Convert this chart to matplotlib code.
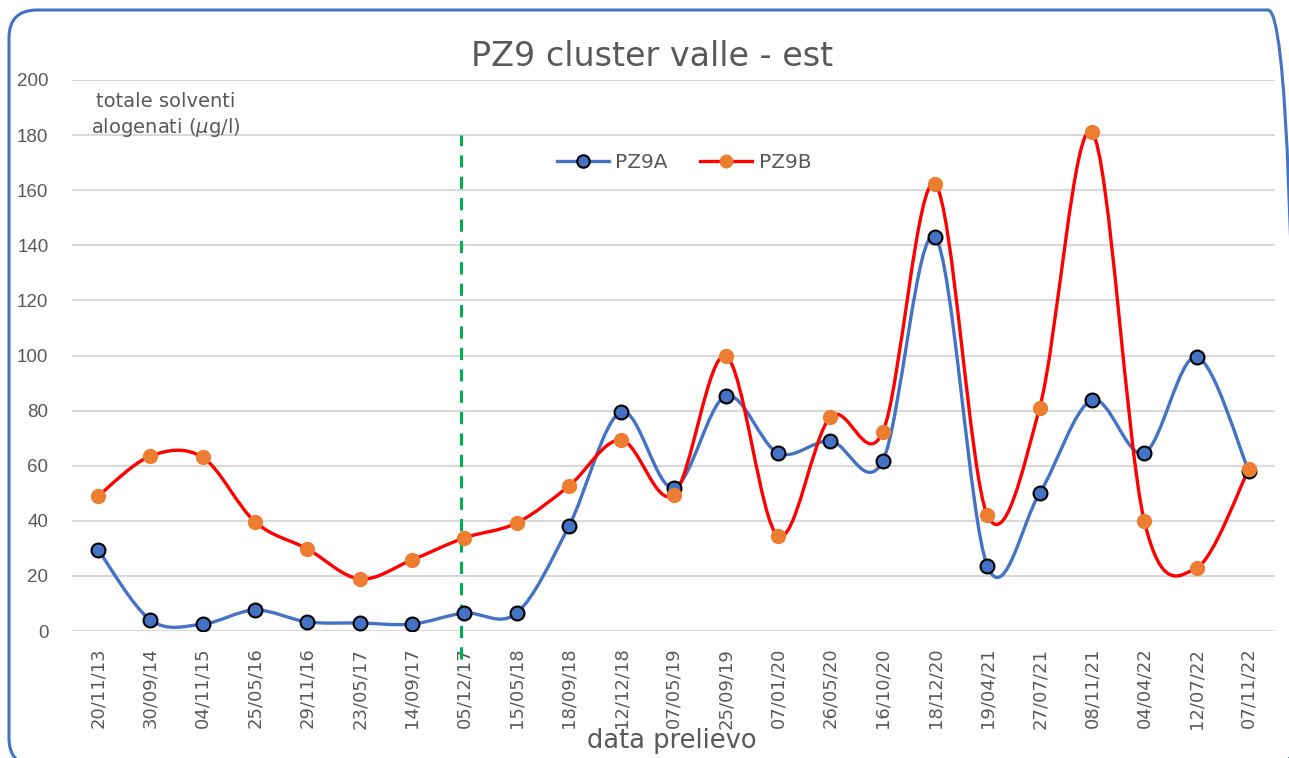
import numpy as np
import matplotlib.pyplot as plt
from matplotlib.path import Path
from matplotlib.patches import PathPatch, FancyBboxPatch
from matplotlib.lines import Line2D
from matplotlib.transforms import IdentityTransform

# dati
date = ['20/11/13', '30/09/14', '04/11/15', '25/05/16', '29/11/16', '23/05/17',
        '14/09/17', '05/12/17', '15/05/18', '18/09/18', '12/12/18', '07/05/19',
        '25/09/19', '07/01/20', '26/05/20', '16/10/20', '18/12/20', '19/04/21',
        '27/07/21', '08/11/21', '04/04/22', '12/07/22', '07/11/22']
pz9a = [29.5, 4, 2.5, 7.6, 3.3, 2.9, 2.5, 6.5, 6.5, 38, 79.5, 52, 85.3, 64.6,
        69, 61.7, 143, 23.6, 50, 83.8, 64.6, 99.5, 58]
pz9b = [49, 63.5, 63, 39.6, 29.8, 18.9, 25.8, 33.8, 39.2, 52.6, 69.3, 49.4,
        99.8, 34.5, 77.7, 72.2, 162.2, 42.1, 81, 181.1, 40, 22.9, 58.8]
linea_verticale = 6.93

blu = '#4472C4'
arancio = '#ED7D31'
grigio = '#595959'


def curva_smussata(x, y):
    # linea smussata tipo Excel (Bezier cubiche)
    p = np.column_stack([x, y]).astype(float)
    n = len(p)
    verts = [p[0]]
    codes = [Path.MOVETO]
    for i in range(n - 1):
        p0 = p[i - 1] if i > 0 else p[i]
        p3 = p[i + 2] if i + 2 < n else p[i + 1]
        c1 = p[i] + (p[i + 1] - p0) / 6
        c2 = p[i + 1] - (p3 - p[i]) / 6
        verts += [c1, c2, p[i + 1]]
        codes += [Path.CURVE4] * 3
    return Path(verts, codes)


fig = plt.figure(figsize=(12.89, 7.58), dpi=100)
ax = fig.add_axes([72 / 1289, 1 - 631 / 758, (1275 - 72) / 1289, 551 / 758])

# bordo arrotondato (in pixel, esce fuori a destra e in basso)
bordo = FancyBboxPatch((9, -8), 1287, 756,
                       boxstyle='round,pad=0,rounding_size=28',
                       transform=IdentityTransform(), facecolor='none',
                       edgecolor=blu, linewidth=2.2, zorder=0, clip_on=False)
fig.patches.append(bordo)

x = np.arange(len(date))

for serie, col_linea in [(pz9a, blu), (pz9b, 'red')]:
    ax.add_patch(PathPatch(curva_smussata(x, serie), facecolor='none',
                           edgecolor=col_linea, linewidth=2.4, zorder=3,
                           capstyle='round', joinstyle='round'))

ax.plot(x, pz9a, linestyle='none', marker='o', markersize=10,
        markerfacecolor=blu, markeredgecolor='black', markeredgewidth=1.5, zorder=4)
ax.plot(x, pz9b, linestyle='none', marker='o', markersize=10,
        markerfacecolor=arancio, markeredgecolor=arancio, zorder=4)

# linea verticale tratteggiata
ax.plot([linea_verticale, linea_verticale], [-10, 180], color='#00B050',
        linestyle=(0, (4, 3)), linewidth=2.2, clip_on=False, zorder=2)

ax.set_xlim(-0.5, len(date) - 0.5)
ax.set_ylim(0, 200)
ax.set_yticks(range(0, 201, 20))
ax.set_xticks(x)
ax.set_xticklabels(date, rotation=90, fontsize=13, color=grigio,
                   family='DejaVu Sans')
ax.tick_params(axis='y', labelsize=13.5, labelcolor=grigio, length=0, pad=17)
ax.tick_params(axis='x', length=0, pad=12)
for lab in ax.get_yticklabels():
    lab.set_family('Liberation Sans')
ax.grid(axis='y', color='#D9D9D9', linewidth=1.5)
ax.set_axisbelow(True)
for s in ax.spines.values():
    s.set_visible(False)

ax.text(1.3, 195.5, 'totale solventi\nalogenati ($\\mu$g/l)',
        ha='center', va='top', fontsize=14, color=grigio, linespacing=1.25)

fig.text(0.506, 1 - 57 / 758, 'PZ9 cluster valle - est', ha='center', va='center',
         fontsize=24, color=grigio)
fig.text(0.521, 1 - 741 / 758, 'data prelievo', ha='center', va='center',
         fontsize=18.5, color=grigio)

maniglie = [Line2D([], [], color=blu, linewidth=2.4, marker='o', markersize=9,
                   markerfacecolor=blu, markeredgecolor='black', markeredgewidth=1.5),
            Line2D([], [], color='red', linewidth=2.4, marker='o', markersize=9,
                   markerfacecolor=arancio, markeredgecolor=arancio)]
ax.legend(maniglie, ['PZ9A', 'PZ9B'], loc='center', bbox_to_anchor=(684 / 1289, 1 - 163 / 758),
          bbox_transform=fig.transFigure, ncol=2, frameon=False, fontsize=14.5,
          labelcolor=grigio, handlelength=2.6, columnspacing=1.6, handletextpad=0.3)

fig.savefig('out.png', dpi=100)
